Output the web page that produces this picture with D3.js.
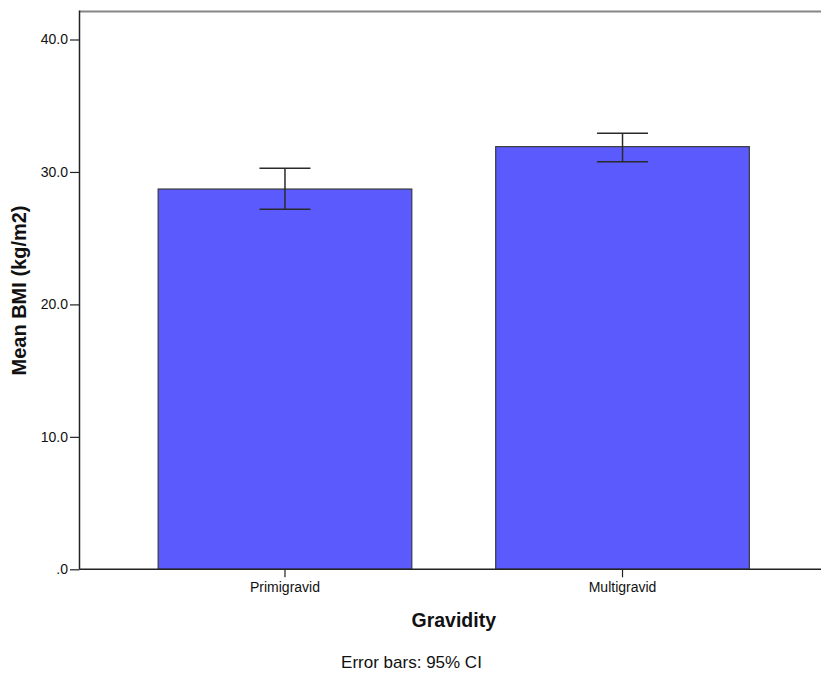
<!DOCTYPE html>
<html>
<head>
<meta charset="utf-8">
<script src="https://cdn.jsdelivr.net/npm/d3@7"></script>
<style>
  html, body { margin: 0; padding: 0; background: #fff; }
  svg { display: block; font-family: "Liberation Sans", Arial, sans-serif; }
</style>
</head>
<body>
<svg id="chart" width="821" height="673"></svg>
<script>
// Mean BMI by gravidity group with 95% confidence intervals
const categories = ["Primigravid", "Multigravid"];
const meanBMI = [28.71, 31.91];
const ciLower = [27.18, 30.77];
const ciUpper = [30.28, 32.92];
const yTicks = [0, 10, 20, 30, 40];
const yTickLabels = [".0", "10.0", "20.0", "30.0", "40.0"];

const data = categories.map((c, i) => ({
  cat: c, mean: meanBMI[i], lo: ciLower[i], hi: ciUpper[i]
}));

const svg = d3.select("#chart");
const plotLeft = 79.5, plotRight = 828, plotTop = 11.5, plotBottom = 569.3;

const x = d3.scaleBand()
  .domain(categories)
  .range([plotLeft, plotRight])
  .paddingInner(0.2485)
  .paddingOuter(0.233);

const y = d3.scaleLinear()
  .domain([0, 40])
  .range([plotBottom, 39.5]);

// Plot frame (top edge)
svg.append("line")
  .attr("x1", plotLeft).attr("x2", 821)
  .attr("y1", plotTop).attr("y2", plotTop)
  .attr("stroke", "#858585").attr("stroke-width", 2);

// Bars
svg.append("g").selectAll("rect")
  .data(data)
  .join("rect")
  .attr("x", d => x(d.cat))
  .attr("width", x.bandwidth())
  .attr("y", d => y(d.mean))
  .attr("height", d => y(0) - y(d.mean))
  .attr("fill", "#5b5bfd")
  .attr("stroke", "#3a3a3a")
  .attr("stroke-width", 1.2);

// Error bars
const capHalf = 25.5;
const eb = svg.append("g").attr("stroke", "#2a2a2a").attr("stroke-width", 1.5);
data.forEach(d => {
  const cx = x(d.cat) + x.bandwidth() / 2;
  eb.append("line").attr("x1", cx).attr("x2", cx).attr("y1", y(d.hi)).attr("y2", y(d.lo));
  eb.append("line").attr("x1", cx - capHalf).attr("x2", cx + capHalf).attr("y1", y(d.hi)).attr("y2", y(d.hi));
  eb.append("line").attr("x1", cx - capHalf).attr("x2", cx + capHalf).attr("y1", y(d.lo)).attr("y2", y(d.lo));
});

// Y axis
const yAxis = d3.axisLeft(y)
  .tickValues(yTicks)
  .tickFormat((d, i) => yTickLabels[i])
  .tickSizeInner(9.5)
  .tickSizeOuter(0)
  .tickPadding(2);
const gy = svg.append("g").attr("transform", `translate(${plotLeft},0)`).call(yAxis);
gy.select(".domain").remove();
gy.selectAll(".tick line").attr("stroke", "#222").attr("stroke-width", 1.2);
gy.selectAll(".tick text").attr("font-size", 14).attr("fill", "#111")
  .attr("font-family", "Liberation Sans, Arial, sans-serif");
svg.append("line")
  .attr("x1", plotLeft).attr("x2", plotLeft)
  .attr("y1", plotTop - 1).attr("y2", plotBottom)
  .attr("stroke", "#222").attr("stroke-width", 1.5);

// X axis
const xAxis = d3.axisBottom(x).tickSizeInner(8).tickSizeOuter(0).tickPadding(5);
const gx = svg.append("g").attr("transform", `translate(0,${plotBottom})`).call(xAxis);
gx.select(".domain").remove();
gx.selectAll(".tick line").attr("stroke", "#222").attr("stroke-width", 1.2);
gx.selectAll(".tick text").attr("font-size", 14).attr("fill", "#111")
  .attr("font-family", "Liberation Sans, Arial, sans-serif");
svg.append("line")
  .attr("x1", plotLeft).attr("x2", 821)
  .attr("y1", plotBottom).attr("y2", plotBottom)
  .attr("stroke", "#222").attr("stroke-width", 1.5);

// Axis titles
svg.append("text")
  .attr("x", (plotLeft + plotRight) / 2).attr("y", 627)
  .attr("text-anchor", "middle")
  .attr("font-size", 19.5).attr("font-weight", "bold").attr("fill", "#111")
  .text("Gravidity");

svg.append("text")
  .attr("transform", `translate(26,290.5) rotate(-90)`)
  .attr("text-anchor", "middle")
  .attr("font-size", 20).attr("font-weight", "bold").attr("fill", "#111")
  .text("Mean BMI (kg/m2)");

svg.append("text")
  .attr("x", 411.5).attr("y", 668)
  .attr("text-anchor", "middle")
  .attr("font-size", 17).attr("fill", "#111")
  .text("Error bars: 95% CI");
</script>
</body>
</html>
